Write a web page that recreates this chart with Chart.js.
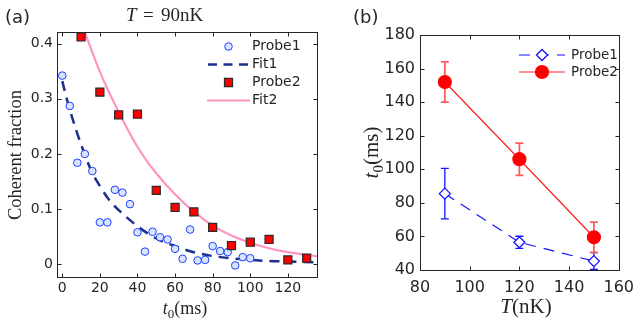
<!DOCTYPE html>
<html>
<head>
<meta charset="utf-8">
<script src="https://cdn.jsdelivr.net/npm/chart.js@4.4.0/dist/chart.umd.min.js"></script>
<style>
  body { margin: 0; background: #fff; width: 642px; height: 327px; overflow: hidden; position: relative; }
  canvas { position: absolute; top: 0; }
  #ca { left: 0; }
  #cb { left: 330px; }
</style>
</head>
<body>
<canvas id="ca" width="330" height="327"></canvas>
<canvas id="cb" width="312" height="327"></canvas>
<script>
// ---- panel (a): coherent fraction vs t0, T = 90nK ----
const probe1T = [0, 4, 8, 12, 16, 20, 24, 28, 32, 36, 40, 44, 48, 52, 56, 60, 64, 68, 72, 76, 80, 84, 88, 92, 96, 100];
const probe1Frac = [0.342, 0.287, 0.184, 0.200, 0.169, 0.076, 0.076, 0.135, 0.130, 0.109, 0.058, 0.023, 0.059, 0.049, 0.045, 0.028, 0.010, 0.063, 0.007, 0.008, 0.033, 0.024, 0.022, -0.002, 0.013, 0.011];
const probe2T = [10, 20, 30, 40, 50, 60, 70, 80, 90, 100, 110, 120, 130];
const probe2Frac = [0.412, 0.312, 0.271, 0.272, 0.134, 0.103, 0.095, 0.067, 0.034, 0.040, 0.045, 0.008, 0.011];
const fit1T = [0, 2, 4, 6, 8, 10, 12, 14, 16, 20, 24, 28, 32, 36, 40, 45, 50, 55, 60, 65, 70, 80, 90, 100, 110, 120, 136];
const fit1Frac = [0.332, 0.305, 0.280, 0.258, 0.237, 0.217, 0.199, 0.181, 0.165, 0.142, 0.121, 0.105, 0.092, 0.080, 0.069, 0.057, 0.047, 0.039, 0.033, 0.027, 0.022, 0.015, 0.011, 0.008, 0.006, 0.005, 0.0035];
const fit2T = [12, 15, 18, 21, 24, 27, 30, 35, 40, 45, 50, 55, 60, 65, 70, 75, 80, 90, 100, 110, 120, 130, 136];
const fit2Frac = [0.421, 0.393, 0.366, 0.341, 0.318, 0.297, 0.276, 0.243, 0.213, 0.187, 0.165, 0.145, 0.127, 0.110, 0.096, 0.082, 0.070, 0.052, 0.039, 0.029, 0.022, 0.017, 0.014];
const ticksAX = [0, 20, 40, 60, 80, 100, 120];
const ticksAY = [0, 0.1, 0.2, 0.3, 0.4];

// ---- panel (b): t0 vs temperature ----
const tempNK = [90, 120, 150];
const probe1T0 = [85.5, 56.5, 45.3];
const probe1Err = [15, 3.6, 5];
const probe2T0 = [152, 106, 59.5];
const probe2Err = [12, 9.6, 9];
const ticksBX = [80, 100, 120, 140, 160];
const ticksBY = [40, 60, 80, 100, 120, 140, 160, 180];

const AXIS = '#262626';
const SERIF = 'Liberation Serif';
const SANS = 'DejaVu Sans';

function pts(xs, ys) { return xs.map((x, i) => ({ x: x, y: ys[i] })); }

// draw a run of text pieces [text, font, dy]
function drawParts(ctx, parts, x, y, align) {
  let w = 0;
  parts.forEach(p => { ctx.font = p[1]; w += ctx.measureText(p[0]).width; });
  let cx = align === 'center' ? x - w / 2 : x;
  parts.forEach(p => {
    ctx.font = p[1];
    ctx.fillText(p[0], cx, y + (p[2] || 0));
    cx += ctx.measureText(p[0]).width;
  });
}

// box + inward ticks on all four sides
const framePlugin = {
  id: 'frame',
  afterDraw(chart, args, opts) {
    const ctx = chart.ctx, a = chart.chartArea, L = opts.tickLen || 4;
    const l = Math.round(a.left) + 0.5, r = Math.round(a.right) + 0.5;
    const t = Math.round(a.top) + 0.5, b = Math.round(a.bottom) + 0.5;
    ctx.save();
    ctx.strokeStyle = AXIS;
    ctx.lineWidth = 1;
    ctx.setLineDash([]);
    ctx.strokeRect(l, t, r - l, b - t);
    ctx.beginPath();
    chart.scales.x.ticks.forEach(tk => {
      const px = Math.round(chart.scales.x.getPixelForValue(tk.value)) + 0.5;
      ctx.moveTo(px, b); ctx.lineTo(px, b - L);
      ctx.moveTo(px, t); ctx.lineTo(px, t + L);
    });
    chart.scales.y.ticks.forEach(tk => {
      const py = Math.round(chart.scales.y.getPixelForValue(tk.value)) + 0.5;
      ctx.moveTo(l, py); ctx.lineTo(l + L, py);
      ctx.moveTo(r, py); ctx.lineTo(r - L, py);
    });
    ctx.stroke();
    ctx.fillStyle = AXIS;
    ctx.textBaseline = 'alphabetic';
    ctx.textAlign = 'left';
    if (opts.texts) opts.texts(ctx, chart);
    ctx.restore();
  }
};

function axisOpts(min, max, list, size, pad, fit, isX) {
  return {
    type: 'linear', min: min, max: max,
    grid: { display: false, drawTicks: false },
    border: { display: false },
    ticks: {
      font: { family: SANS, size: size }, color: AXIS, padding: pad,
      autoSkip: false, maxRotation: 0, callback: v => String(v)
    },
    afterBuildTicks: s => { s.ticks = list.map(v => ({ value: v })); },
    afterFit: s => { if (isX) s.height = fit; else s.width = fit; }
  };
}

// ---- chart (a) ----
new Chart(document.getElementById('ca'), {
  data: {
    datasets: [
      { type: 'scatter', label: 'Probe2', data: pts(probe2T, probe2Frac),
        pointStyle: 'rect', pointRadius: 5.7, backgroundColor: '#ff0000',
        borderColor: '#2a2a2a', borderWidth: 1.2 },
      { type: 'scatter', label: 'Probe1', data: pts(probe1T, probe1Frac),
        pointStyle: 'circle', pointRadius: 3.8, backgroundColor: '#d6e4ff',
        borderColor: '#1f3fff', borderWidth: 1 },
      { type: 'line', label: 'Fit1', data: pts(fit1T, fit1Frac), pointRadius: 0,
        borderColor: '#1b2f8f', borderWidth: 2.5, borderDash: [10, 7],
        cubicInterpolationMode: 'monotone' },
      { type: 'line', label: 'Fit2', data: pts(fit2T, fit2Frac), pointRadius: 0,
        borderColor: '#ff94c2', borderWidth: 2.2, cubicInterpolationMode: 'monotone' }
    ]
  },
  options: {
    responsive: false, animation: false,
    layout: { padding: { top: 32, right: 13, left: 0, bottom: 0 } },
    scales: {
      x: axisOpts(-2.8, 135.5, ticksAX, 14, 3, 50, true),
      y: axisOpts(-0.023, 0.421, ticksAY, 14, 4, 57, false)
    },
    plugins: {
      legend: { display: false }, tooltip: { enabled: false },
      frame: {
        tickLen: 4,
        texts(ctx, chart) {
          ctx.font = '18px ' + SANS;
          ctx.fillText('(a)', 5, 23);
          // title
          ctx.font = 'italic 19px ' + SERIF;
          ctx.fillText('T', 126, 21);
          ctx.font = '19px ' + SERIF;
          ctx.fillText('=', 143, 21);
          ctx.fillText('90nK', 161, 21);
          // x label
          drawParts(ctx, [['t', 'italic 18px ' + SERIF], ['0', '13px ' + SERIF, 4], ['(ms)', '18px ' + SERIF]], 185, 314, 'center');
          // y label
          ctx.save();
          ctx.translate(21, 155);
          ctx.rotate(-Math.PI / 2);
          drawParts(ctx, [['Coherent fraction', '18.5px ' + SERIF]], 0, 0, 'center');
          ctx.restore();
          // legend
          const H = Chart.helpers;
          ctx.textBaseline = 'middle';
          ctx.font = '14px ' + SANS;
          const lx = 228.5, tx = 252;
          ctx.fillStyle = '#d6e4ff'; ctx.strokeStyle = '#1f3fff'; ctx.lineWidth = 1;
          H.drawPoint(ctx, { pointStyle: 'circle', radius: 3.8, borderWidth: 1 }, lx, 46.5);
          ctx.fillStyle = '#ff0000'; ctx.strokeStyle = '#2a2a2a'; ctx.lineWidth = 1.2;
          H.drawPoint(ctx, { pointStyle: 'rect', radius: 5.7, borderWidth: 1.2 }, lx, 82.5);
          ctx.beginPath(); ctx.strokeStyle = '#1b2f8f'; ctx.lineWidth = 2.5; ctx.setLineDash([9, 6.5]);
          ctx.moveTo(208, 64.5); ctx.lineTo(249, 64.5); ctx.stroke();
          ctx.beginPath(); ctx.strokeStyle = '#ff94c2'; ctx.lineWidth = 2.2; ctx.setLineDash([]);
          ctx.moveTo(207, 100.5); ctx.lineTo(250, 100.5); ctx.stroke();
          ctx.fillStyle = AXIS;
          ctx.fillText('Probe1', tx, 46.5);
          ctx.fillText('Fit1', tx, 64.5);
          ctx.fillText('Probe2', tx, 82.5);
          ctx.fillText('Fit2', tx, 100.5);
        }
      }
    }
  },
  plugins: [framePlugin]
});

// ---- chart (b) ----
const errorBarPlugin = {
  id: 'errbars',
  beforeDatasetsDraw(chart) {
    const ctx = chart.ctx, xs = chart.scales.x, ys = chart.scales.y;
    const sets = [[probe1T0, probe1Err, '#1414ff', 1.3], [probe2T0, probe2Err, '#ff5c5c', 1.8]];
    ctx.save();
    ctx.beginPath();
    ctx.rect(chart.chartArea.left, chart.chartArea.top - 1, chart.chartArea.width, chart.chartArea.height + 2);
    ctx.clip();
    sets.forEach(s => {
      ctx.strokeStyle = s[2]; ctx.lineWidth = s[3];
      ctx.beginPath();
      tempNK.forEach((T, i) => {
        const px = xs.getPixelForValue(T);
        const top = ys.getPixelForValue(s[0][i] + s[1][i]);
        const bot = ys.getPixelForValue(s[0][i] - s[1][i]);
        ctx.moveTo(px, top); ctx.lineTo(px, bot);
        ctx.moveTo(px - 4, top); ctx.lineTo(px + 4, top);
        ctx.moveTo(px - 4, bot); ctx.lineTo(px + 4, bot);
      });
      ctx.stroke();
    });
    ctx.restore();
  }
};

new Chart(document.getElementById('cb'), {
  type: 'line',
  data: {
    datasets: [
      { label: 'Probe2', data: pts(tempNK, probe2T0), borderColor: '#ff1e1e', borderWidth: 1.2,
        pointStyle: 'circle', pointRadius: 6.5, backgroundColor: '#ff0000', pointBorderColor: '#ff0000' },
      { label: 'Probe1', data: pts(tempNK, probe1T0), borderColor: '#1414ff', borderWidth: 1.2,
        borderDash: [11, 8], pointStyle: 'rectRot', pointRadius: 5.5, pointBackgroundColor: '#ffffff',
        pointBorderColor: '#1414ff', pointBorderWidth: 1.3 }
    ]
  },
  options: {
    responsive: false, animation: false,
    layout: { padding: { top: 35, right: 10, left: 0, bottom: 0 } },
    scales: {
      x: axisOpts(80, 160, ticksBX, 16, 8, 57, true),
      y: axisOpts(40, 180, ticksBY, 16, 5, 90, false)
    },
    plugins: {
      legend: { display: false }, tooltip: { enabled: false },
      frame: {
        tickLen: 4,
        texts(ctx, chart) {
          ctx.font = '18px ' + SANS;
          ctx.fillText('(b)', 23, 23);
          drawParts(ctx, [['T', 'italic 21px ' + SERIF], ['(nK)', '21px ' + SERIF]], 196, 313, 'center');
          ctx.save();
          ctx.translate(48, 152.5);
          ctx.rotate(-Math.PI / 2);
          drawParts(ctx, [['t', 'italic 21px ' + SERIF], ['0', '15px ' + SERIF, 4.5], ['(ms)', '21px ' + SERIF]], 0, 0, 'center');
          ctx.restore();
          // legend
          const H = Chart.helpers;
          ctx.beginPath(); ctx.strokeStyle = '#1414ff'; ctx.lineWidth = 1.2; ctx.setLineDash([11, 8]);
          ctx.moveTo(189, 55); ctx.lineTo(235, 55); ctx.stroke();
          ctx.setLineDash([]);
          ctx.fillStyle = '#ffffff'; ctx.lineWidth = 1.3;
          H.drawPoint(ctx, { pointStyle: 'rectRot', radius: 5.5, borderWidth: 1.3 }, 212, 55);
          ctx.beginPath(); ctx.strokeStyle = '#ff1e1e'; ctx.lineWidth = 1.2;
          ctx.moveTo(189, 72); ctx.lineTo(235, 72); ctx.stroke();
          ctx.fillStyle = '#ff0000'; ctx.strokeStyle = '#ff0000';
          H.drawPoint(ctx, { pointStyle: 'circle', radius: 6.5, borderWidth: 1 }, 212, 72);
          ctx.fillStyle = AXIS;
          ctx.textBaseline = 'middle';
          ctx.font = '13.5px ' + SANS;
          ctx.fillText('Probe1', 241, 55);
          ctx.fillText('Probe2', 241, 72);
        }
      }
    }
  },
  plugins: [framePlugin, errorBarPlugin]
});
</script>
</body>
</html>
